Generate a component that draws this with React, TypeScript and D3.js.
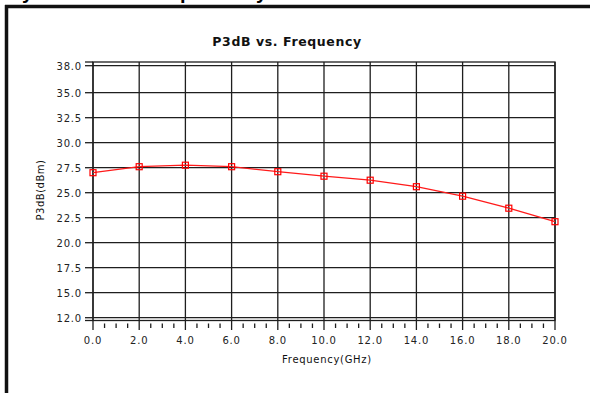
import * as d3 from 'd3';
import React, { useEffect, useRef } from 'react';

const freqs = [0, 2, 4, 6, 8, 10, 12, 14, 16, 18, 20];
const p3db = [27.0, 27.6, 27.75, 27.6, 27.1, 26.65, 26.25, 25.6, 24.65, 23.45, 22.1];

const xTicks = [0, 2, 4, 6, 8, 10, 12, 14, 16, 18, 20];
const xTickLabels = ['0.0', '2.0', '4.0', '6.0', '8.0', '10.0', '12.0', '14.0', '16.0', '18.0', '20.0'];
const yTicks = [12.5, 15, 17.5, 20, 22.5, 25, 27.5, 30, 32.5, 35, 37.7];
const yTickLabels = ['12.0', '15.0', '17.5', '20.0', '22.5', '25.0', '27.5', '30.0', '32.5', '35.0', '38.0'];

const App: React.FC = () => {
  const svgRef = useRef<SVGSVGElement | null>(null);

  useEffect(() => {
    const svg = d3.select(svgRef.current);
    const width = 590;
    const height = 393;
    const plot = { left: 93, right: 555, top: 62, bottom: 320.5 };

    svg.attr('width', width).attr('height', height).style('background', '#fff');
    svg.selectAll('*').remove();

    const x = d3.scaleLinear().domain([0, 20]).range([plot.left, plot.right]);
    const y = d3.scaleLinear().domain([12.5, 37.7]).range([317.7, 65.7]);

    // cropped heading above the frame (only descenders visible)
    const head = svg
      .append('text')
      .attr('y', -1)
      .style('font-family', 'Arial, "Liberation Sans", sans-serif')
      .style('font-weight', 'bold')
      .style('font-size', '20px')
      .attr('fill', '#000');
    [
      ['y', 22],
      ['p', 180],
      ['y', 256],
    ].forEach(([t, px]) => head.append('tspan').attr('x', px as number).text(t as string));

    // outer frame
    svg.append('line').attr('x1', 5).attr('x2', width).attr('y1', 6.5).attr('y2', 6.5)
      .attr('stroke', '#111').attr('stroke-width', 3.5);
    svg.append('line').attr('x1', 6.5).attr('x2', 6.5).attr('y1', 5).attr('y2', height)
      .attr('stroke', '#111').attr('stroke-width', 3.5);

    const grid = svg.append('g').attr('stroke', '#1e1e1e').attr('stroke-width', 1.3);

    // horizontal grid
    grid
      .selectAll('line.h')
      .data(yTicks)
      .join('line')
      .attr('x1', plot.left)
      .attr('x2', plot.right)
      .attr('y1', (d) => y(d))
      .attr('y2', (d) => y(d));

    // vertical grid
    grid
      .selectAll('line.v')
      .data(xTicks)
      .join('line')
      .attr('x1', (d) => x(d))
      .attr('x2', (d) => x(d))
      .attr('y1', plot.top)
      .attr('y2', plot.bottom);

    // frame
    svg
      .append('rect')
      .attr('x', plot.left)
      .attr('y', plot.top)
      .attr('width', plot.right - plot.left)
      .attr('height', plot.bottom - plot.top)
      .attr('fill', 'none')
      .attr('stroke', '#1e1e1e')
      .attr('stroke-width', 1.3);

    const font = '"DejaVu Sans", Verdana, sans-serif';

    // y ticks + labels
    const yAxis = svg.append('g');
    yAxis
      .selectAll('line.t')
      .data([...yTicks.map((d) => y(d)), plot.top, plot.bottom])
      .join('line')
      .attr('x1', 85)
      .attr('x2', plot.left)
      .attr('y1', (d) => d)
      .attr('y2', (d) => d)
      .attr('stroke', '#1e1e1e')
      .attr('stroke-width', 1.3);
    yAxis
      .selectAll('text')
      .data(yTicks)
      .join('text')
      .attr('x', 82)
      .attr('y', (d) => y(d) + 3.8)
      .attr('text-anchor', 'end')
      .style('font-family', font)
      .style('font-size', '10px')
      .style('letter-spacing', '0.8px')
      .attr('fill', '#222')
      .text((d, i) => yTickLabels[i]);

    // x ticks
    const minor = d3.range(0, 20.01, 0.5).filter((d) => d % 2 !== 0);
    const xAxis = svg.append('g').attr('stroke', '#1e1e1e').attr('stroke-width', 1.3);
    xAxis
      .selectAll('line.maj')
      .data(xTicks)
      .join('line')
      .attr('x1', (d) => x(d))
      .attr('x2', (d) => x(d))
      .attr('y1', plot.bottom)
      .attr('y2', 330);
    xAxis
      .selectAll('line.min')
      .data(minor)
      .join('line')
      .attr('class', 'min')
      .attr('x1', (d) => x(d))
      .attr('x2', (d) => x(d))
      .attr('y1', 323.5)
      .attr('y2', 328);

    svg
      .append('g')
      .selectAll('text')
      .data(xTicks)
      .join('text')
      .attr('x', (d) => x(d))
      .attr('y', 344)
      .attr('text-anchor', 'middle')
      .style('font-family', font)
      .style('font-size', '10px')
      .style('letter-spacing', '0.8px')
      .attr('fill', '#222')
      .text((d, i) => xTickLabels[i]);

    // titles
    svg
      .append('text')
      .attr('x', 287)
      .attr('y', 46)
      .attr('text-anchor', 'middle')
      .style('font-family', font)
      .style('font-weight', 'bold')
      .style('font-size', '12.5px')
      .style('letter-spacing', '0.6px')
      .attr('fill', '#111')
      .text('P3dB vs. Frequency');

    svg
      .append('text')
      .attr('x', 327)
      .attr('y', 363)
      .attr('text-anchor', 'middle')
      .style('font-family', font)
      .style('font-size', '10px')
      .style('letter-spacing', '0.7px')
      .attr('fill', '#111')
      .text('Frequency(GHz)');

    svg
      .append('text')
      .attr('transform', 'translate(44,190) rotate(-90)')
      .attr('text-anchor', 'middle')
      .style('font-family', font)
      .style('font-size', '10px')
      .style('letter-spacing', '0.5px')
      .attr('fill', '#111')
      .text('P3dB(dBm)');

    // series
    const pts = freqs.map((f, i) => [f, p3db[i]] as [number, number]);
    const line = d3
      .line<[number, number]>()
      .x((d) => x(d[0]))
      .y((d) => y(d[1]));

    svg
      .append('path')
      .datum(pts)
      .attr('fill', 'none')
      .attr('stroke', '#ff1a1a')
      .attr('stroke-width', 1.3)
      .attr('d', line);

    svg
      .append('g')
      .selectAll('rect')
      .data(pts)
      .join('rect')
      .attr('x', (d) => x(d[0]) - 3)
      .attr('y', (d) => y(d[1]) - 3)
      .attr('width', 6)
      .attr('height', 6)
      .attr('fill', 'none')
      .attr('stroke', '#ff0000')
      .attr('stroke-width', 1.2);
  }, []);

  return (
    <div style={{ position: 'fixed', left: 0, top: 0 }}>
      <svg ref={svgRef} style={{ display: 'block' }}></svg>
    </div>
  );
};

export default App;
